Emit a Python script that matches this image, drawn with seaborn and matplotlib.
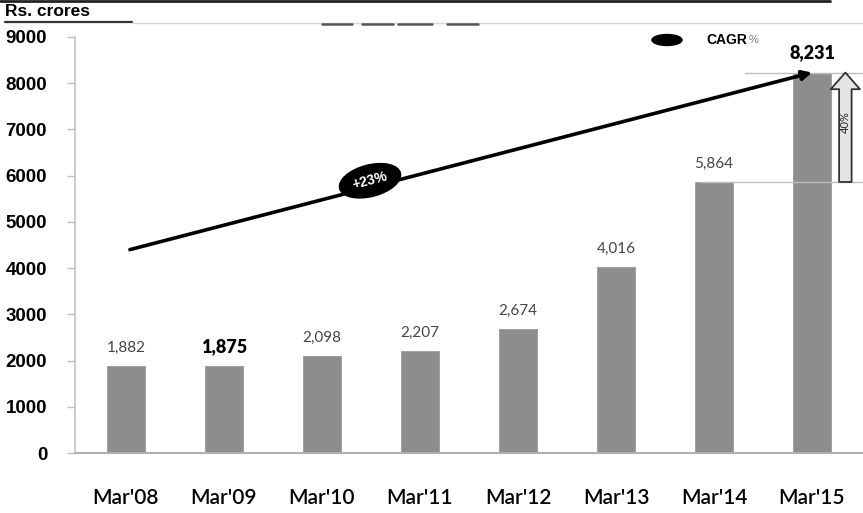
import matplotlib
matplotlib.use("Agg")
import matplotlib.pyplot as plt
import seaborn as sns
import pandas as pd
from matplotlib.patches import Ellipse
from matplotlib.lines import Line2D

# Revenue by financial year (Rs. crores)
years = ["Mar'08", "Mar'09", "Mar'10", "Mar'11", "Mar'12", "Mar'13", "Mar'14", "Mar'15"]
revenue = [1882, 1875, 2098, 2207, 2674, 4016, 5864, 8231]
value_labels = ["1,882", "1,875", "2,098", "2,207", "2,674", "4,016", "5,864", "8,231"]
bold_years = ["Mar'09", "Mar'15"]
y_ticks = [0, 1000, 2000, 3000, 4000, 5000, 6000, 7000, 8000, 9000]

# CAGR trend arrow and year-on-year growth callout
cagr_start_value = 4400
cagr_text = "+23%"
yoy_text = "40%"

sns.set_theme(style="white")
narrow = ["Lato", "DejaVu Sans"]
sans = ["Liberation Sans", "DejaVu Sans"]

W, H = 863, 513
fig = plt.figure(figsize=(W / 100, H / 100), dpi=100)
fig.patch.set_facecolor("white")
ax = fig.add_axes([75 / W, 1 - 453 / H, 788 / W, 416 / H])

df = pd.DataFrame({"year": years, "revenue": revenue})
sns.barplot(data=df, x="year", y="revenue", color="#8d8d8d", saturation=1,
            width=0.39, ax=ax, edgecolor="#9a9a9a", linewidth=0.6)

ax.set_xlim(-0.52, 7.52)
ax.set_ylim(0, 9000)
ax.set_yticks(y_ticks)
ax.set_yticklabels([str(t) for t in y_ticks], family=sans, fontsize=13.5,
                   fontweight="bold", color="black")
ax.set_xticks(range(len(years)))
ax.set_xticklabels(years, family=narrow, fontsize=15, fontweight="semibold",
                   color="black")
ax.set_xlabel("")
ax.set_ylabel("")
ax.tick_params(axis="y", which="both", left=True, length=6, width=1,
               color="#bdbdbd", pad=14)
ax.tick_params(axis="x", bottom=False, pad=19)
for side in ["top", "right"]:
    ax.spines[side].set_visible(False)
ax.spines["left"].set_color("#c4c4c4")
ax.spines["left"].set_linewidth(1.2)
ax.spines["bottom"].set_color("#b0b0b0")
ax.spines["bottom"].set_linewidth(1.5)

# Value labels above each bar
for i, (yr, v, lab) in enumerate(zip(years, revenue, value_labels)):
    if yr in bold_years:
        ax.annotate(lab, (i, v), xytext=(0, 8), textcoords="offset points",
                    ha="center", va="bottom", fontsize=13, fontweight="heavy",
                    color="black", family=narrow)
    else:
        ax.annotate(lab, (i, v), xytext=(0, 8), textcoords="offset points",
                    ha="center", va="bottom", fontsize=11, color="#444444",
                    family=narrow)

# Reference levels for the last two years
ax.plot([5.86, 7.52], [revenue[6], revenue[6]], color="#bcbcbc", lw=1, zorder=1)
ax.plot([6.32, 7.52], [revenue[7], revenue[7]], color="#bcbcbc", lw=1, zorder=1)

# CAGR trend arrow
ax.annotate("", xy=(7, revenue[-1]), xytext=(0.04, cagr_start_value),
            arrowprops=dict(arrowstyle="-|>", lw=2.6, color="black",
                            mutation_scale=14, shrinkA=0, shrinkB=0), zorder=5)
ax.text(2.49, 5890, cagr_text, rotation=14.5, rotation_mode="anchor",
        ha="center", va="center", fontsize=10, color="white", family=sans,
        fontweight="bold", zorder=6,
        bbox=dict(boxstyle="ellipse,pad=0.3", fc="black", ec="black"))

# Year-on-year growth arrow
ax.annotate("", xy=(7.34, revenue[-1]), xytext=(7.34, revenue[6]),
            arrowprops=dict(arrowstyle="simple,head_length=0.6,head_width=1.05,tail_width=0.45",
                            fc="#e4e4e4", ec="#333333", lw=1.3, mutation_scale=20,
                            shrinkA=0, shrinkB=0), zorder=4)
ax.text(7.34, 7150, yoy_text, rotation=90, ha="center", va="center",
        fontsize=8, color="#222222", family=narrow, zorder=6)

# Legend entry
fig.patches.append(Ellipse((667 / W, 1 - 40 / H), 30 / W, 11 / H,
                           transform=fig.transFigure, fc="black", ec="black"))
fig.text(706 / W, 1 - 40 / H, "CAGR", ha="left", va="center", fontsize=10,
         fontweight="bold", family=sans, color="black")
fig.text(749 / W, 1 - 40 / H, "%", ha="left", va="center", fontsize=8,
         family=sans, color="#777777")

# Header: unit label and rules
fig.text(5 / W, 1 - 12 / H, "Rs. crores", ha="left", va="center", fontsize=12.5,
         fontweight="bold", family=sans, color="black")
fig.lines.append(Line2D([0, 830 / W], [1 - 1 / H, 1 - 1 / H], transform=fig.transFigure,
                        color="#222222", lw=2))
fig.lines.append(Line2D([5 / W, 132 / W], [1 - 22 / H, 1 - 22 / H], transform=fig.transFigure,
                        color="#333333", lw=1.6))
fig.lines.append(Line2D([132 / W, 863 / W], [1 - 23 / H, 1 - 23 / H], transform=fig.transFigure,
                        color="#d6d6d6", lw=1))
for x0, x1 in [(322, 352), (362, 393), (398, 432), (447, 478)]:
    fig.lines.append(Line2D([x0 / W, x1 / W], [1 - 24 / H, 1 - 24 / H],
                            transform=fig.transFigure, color="#555555", lw=1.8))

fig.savefig("out.png", dpi=100, facecolor="white")
